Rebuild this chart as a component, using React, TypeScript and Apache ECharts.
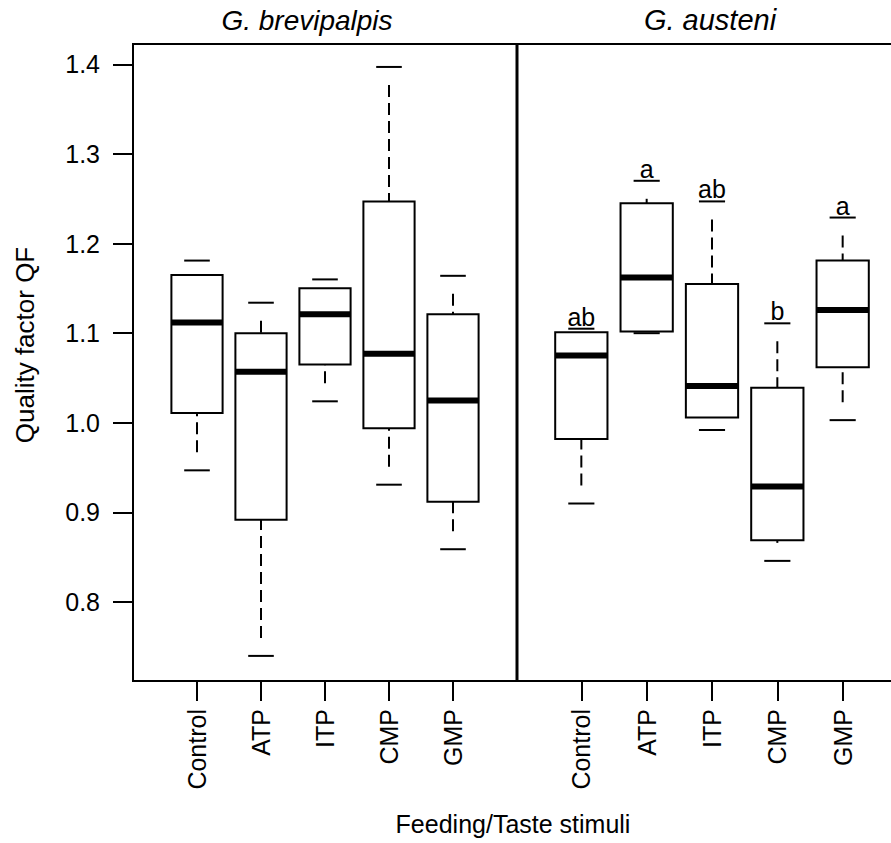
import React, { useEffect, useRef } from "react";
import * as echarts from "echarts";

const FONT = "'Liberation Sans', Arial, Helvetica, sans-serif";

const stimuli = ["Control", "ATP", "ITP", "CMP", "GMP"];
const yTicks = [0.8, 0.9, 1.0, 1.1, 1.2, 1.3, 1.4];
const speciesTitles = ["G. brevipalpis", "G. austeni"];

// Five-number summaries per stimulus: [lower whisker, Q1, median, Q3, upper whisker]
const brevipalpisStats = [
  [0.947, 1.011, 1.112, 1.165, 1.181],
  [0.74, 0.892, 1.057, 1.1, 1.134],
  [1.024, 1.065, 1.121, 1.15, 1.16],
  [0.931, 0.994, 1.077, 1.247, 1.397],
  [0.859, 0.912, 1.025, 1.121, 1.164],
];
const austeniStats = [
  [0.91, 0.982, 1.075, 1.101, 1.105],
  [1.1, 1.102, 1.162, 1.245, 1.27],
  [0.992, 1.006, 1.041, 1.155, 1.247],
  [0.846, 0.869, 0.929, 1.039, 1.111],
  [1.003, 1.062, 1.126, 1.181, 1.229],
];
// Significance groupings shown above the G. austeni boxes
const austeniLetters = ["ab", "a", "ab", "b", "a"];

const Y_MIN = 0.712;
const Y_MAX = 1.4226;

// Panel frames (pixels): the right-hand panel continues past the canvas edge
const TOP = 44;
const HEIGHT = 637;
const LEFT = 133;
const DIVIDER = 517;
const RIGHT_WIDTH = 392;

function makeRenderer(letters: string[] | null) {
  return (params: any, api: any) => {
    const x = api.value(0);
    const lo = api.value(1);
    const q1 = api.value(2);
    const med = api.value(3);
    const q3 = api.value(4);
    const hi = api.value(5);
    const cx = api.coord([x, lo])[0];
    const yLo = api.coord([x, lo])[1];
    const yQ1 = api.coord([x, q1])[1];
    const yMed = api.coord([x, med])[1];
    const yQ3 = api.coord([x, q3])[1];
    const yHi = api.coord([x, hi])[1];
    const halfBox = api.size([0.8, 0])[0] / 2;
    const halfCap = halfBox / 2;
    const children: any[] = [];

    // dashed whisker, starting with a gap next to the cap
    const whisker = (yCap: number, yEdge: number) => {
      const len = Math.abs(yEdge - yCap);
      if (len <= 12) return;
      const dir = Math.sign(yEdge - yCap);
      children.push({
        type: "line",
        shape: { x1: cx, y1: yCap + dir * 12, x2: cx, y2: yEdge },
        style: { stroke: "#000", lineWidth: 2, lineDash: [12, 6], lineDashOffset: 12 },
      });
    };
    whisker(yHi, yQ3);
    whisker(yLo, yQ1);

    children.push({
      type: "rect",
      shape: { x: cx - halfBox, y: yQ3, width: halfBox * 2, height: yQ1 - yQ3 },
      style: { fill: "#fff", stroke: "#000", lineWidth: 2 },
    });
    children.push({
      type: "line",
      shape: { x1: cx - halfBox, y1: yMed, x2: cx + halfBox, y2: yMed },
      style: { stroke: "#000", lineWidth: 6 },
    });
    [yHi, yLo].forEach((yc) => {
      children.push({
        type: "line",
        shape: { x1: cx - halfCap, y1: yc, x2: cx + halfCap, y2: yc },
        style: { stroke: "#000", lineWidth: 2 },
      });
    });

    if (letters) {
      children.push({
        type: "text",
        x: cx,
        y: yHi - 12,
        style: {
          text: letters[params.dataIndex],
          fill: "#000",
          fontSize: 25,
          fontFamily: FONT,
          align: "center",
          verticalAlign: "middle",
        },
      });
    }
    return { type: "group", children };
  };
}

function toData(stats: number[][]) {
  return stats.map((s, i) => [i + 1, ...s]);
}

export default function App() {
  const ref = useRef<HTMLDivElement>(null);

  useEffect(() => {
    if (!ref.current) return;
    const chart = echarts.init(ref.current, null, { renderer: "svg" });

    const xAxisBase = (gridIndex: number) => ({
      type: "value",
      gridIndex,
      min: 0,
      max: 6,
      axisLine: { show: false },
      splitLine: { show: false },
      axisTick: {
        show: true,
        length: 20,
        customValues: [1, 2, 3, 4, 5],
        lineStyle: { color: "#000", width: 2 },
      },
      axisLabel: {
        customValues: [1, 2, 3, 4, 5],
        formatter: (v: number) => stimuli[Math.round(v) - 1] ?? "",
        rotate: 90,
        margin: 28,
        fontSize: 25,
        fontFamily: FONT,
        color: "#000",
      },
    });

    const frameLine = (x1: number, y1: number, x2: number, y2: number, w: number) => ({
      type: "line",
      shape: { x1, y1, x2, y2 },
      style: { stroke: "#000", lineWidth: w },
      z: 10,
    });

    chart.setOption({
      animation: false,
      backgroundColor: "#fff",
      grid: [
        {
          left: LEFT, top: TOP, width: DIVIDER - LEFT, height: HEIGHT,
          show: true, borderColor: "#000", borderWidth: 2, backgroundColor: "transparent",
          outerBoundsMode: "none",
        },
        {
          left: DIVIDER - 1, top: TOP, width: RIGHT_WIDTH, height: HEIGHT,
          show: false,
          outerBoundsMode: "none",
        },
      ],
      xAxis: [xAxisBase(0), xAxisBase(1)],
      yAxis: [
        {
          type: "value",
          gridIndex: 0,
          min: Y_MIN,
          max: Y_MAX,
          axisLine: { show: false },
          splitLine: { show: false },
          axisTick: {
            show: true,
            length: 20,
            customValues: yTicks,
            lineStyle: { color: "#000", width: 2 },
          },
          axisLabel: {
            customValues: yTicks,
            formatter: (v: number) => v.toFixed(1),
            margin: 33,
            fontSize: 25,
            fontFamily: FONT,
            color: "#000",
          },
        },
        {
          type: "value",
          gridIndex: 1,
          min: Y_MIN,
          max: Y_MAX,
          show: false,
          splitLine: { show: false },
        },
      ],
      series: [
        {
          type: "custom",
          xAxisIndex: 0,
          yAxisIndex: 0,
          data: toData(brevipalpisStats),
          encode: { x: 0, y: [1, 2, 3, 4, 5] },
          renderItem: makeRenderer(null),
          clip: false,
        },
        {
          type: "custom",
          xAxisIndex: 1,
          yAxisIndex: 1,
          data: toData(austeniStats),
          encode: { x: 0, y: [1, 2, 3, 4, 5] },
          renderItem: makeRenderer(austeniLetters),
          clip: false,
        },
      ],
      graphic: [
        frameLine(DIVIDER, TOP, 960, TOP, 2),
        frameLine(DIVIDER, TOP + HEIGHT, 960, TOP + HEIGHT, 2),
        frameLine(DIVIDER, TOP - 1, DIVIDER, TOP + HEIGHT + 1, 3),
        {
          type: "text",
          x: 307,
          y: 20,
          style: { text: speciesTitles[0], fontSize: 28, fontStyle: "italic", fontFamily: FONT, fill: "#000", align: "center", verticalAlign: "middle" },
        },
        {
          type: "text",
          x: 710,
          y: 20,
          style: { text: speciesTitles[1], fontSize: 29, fontStyle: "italic", fontFamily: FONT, fill: "#000", align: "center", verticalAlign: "middle" },
        },
        {
          type: "text",
          x: 513,
          y: 824,
          style: { text: "Feeding/Taste stimuli", fontSize: 25, fontFamily: FONT, fill: "#000", align: "center", verticalAlign: "middle" },
        },
        {
          type: "text",
          x: 25,
          y: 345,
          rotation: Math.PI / 2,
          style: { text: "Quality factor QF", fontSize: 26, fontFamily: FONT, fill: "#000", align: "center", verticalAlign: "middle" },
        },
      ],
    });

    return () => chart.dispose();
  }, []);

  return (
    <div
      ref={ref}
      style={{ position: "fixed", left: 0, top: 0, width: 891, height: 843, background: "#fff" }}
    />
  );
}
